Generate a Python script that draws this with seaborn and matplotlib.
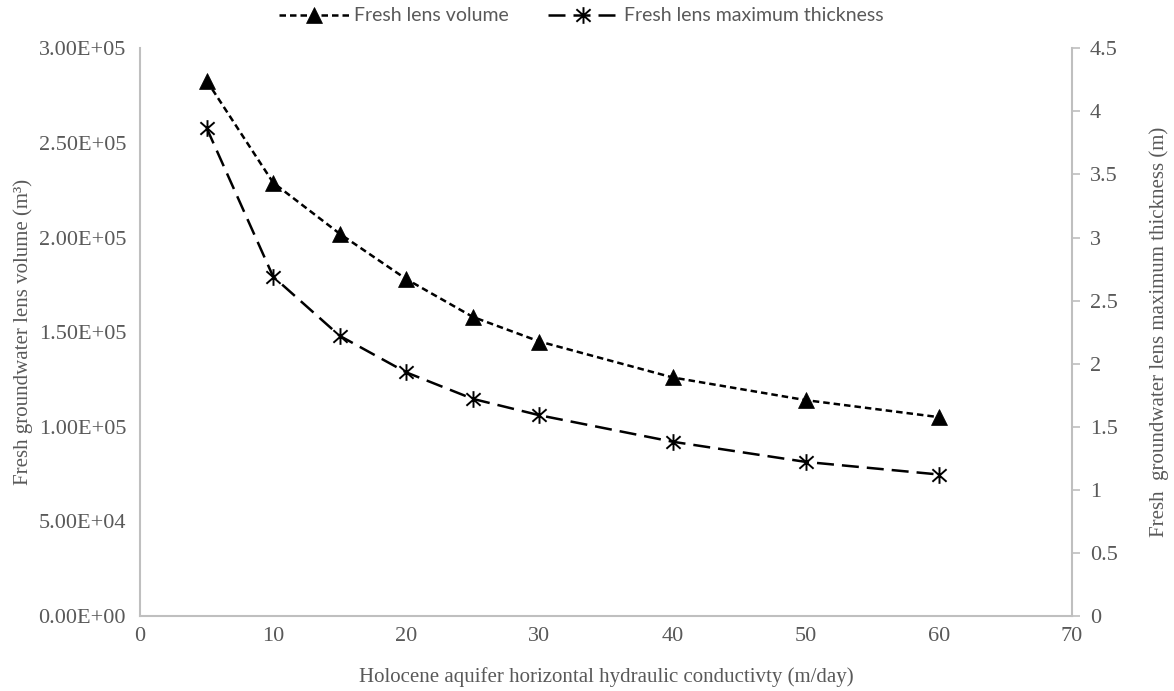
import matplotlib
matplotlib.use("Agg")
import matplotlib.pyplot as plt
from matplotlib.path import Path
import pandas as pd
import seaborn as sns

# Holocene aquifer horizontal hydraulic conductivity (m/day)
conductivity = [5, 10, 15, 20, 25, 30, 40, 50, 60]
# Fresh groundwater lens volume (m^3)
lens_volume = [2.83e5, 2.29e5, 2.02e5, 1.78e5, 1.58e5, 1.45e5, 1.26e5, 1.14e5, 1.05e5]
# Fresh groundwater lens maximum thickness (m)
lens_thickness = [3.87, 2.69, 2.22, 1.93, 1.72, 1.59, 1.38, 1.22, 1.12]

volume_ticks = [0, 5e4, 1e5, 1.5e5, 2e5, 2.5e5, 3e5]
thickness_ticks = [0, 0.5, 1, 1.5, 2, 2.5, 3, 3.5, 4, 4.5]
x_ticks = [0, 10, 20, 30, 40, 50, 60, 70]

df = pd.DataFrame({"k": conductivity, "volume": lens_volume, "thickness": lens_thickness})

sns.set_theme(style="white")
plt.rcParams["font.family"] = ["Liberation Serif", "DejaVu Serif"]

TEXT = "#595959"
SPINE = "#BFBFBF"

fig = plt.figure(figsize=(11.74, 6.91), dpi=100)
ax = fig.add_axes([140 / 1174, 1 - 615.7 / 691, 932 / 1174, 567.3 / 691])
ax2 = ax.twinx()

# six-armed asterisk: vertical bar plus a diagonal cross
star = Path(
    [(0, -1), (0, 1), (-0.85, -0.75), (0.85, 0.75), (-0.85, 0.75), (0.85, -0.75)],
    [Path.MOVETO, Path.LINETO, Path.MOVETO, Path.LINETO, Path.MOVETO, Path.LINETO],
)

sns.lineplot(data=df, x="k", y="volume", ax=ax, color="black", lw=1.8,
             marker="^", markersize=11, markerfacecolor="black",
             markeredgecolor="black", markeredgewidth=0.5,
             label="Fresh lens volume")
ax.lines[-1].set_dashes((2.6, 1.6))

sns.lineplot(data=df, x="k", y="thickness", ax=ax2, color="black", lw=1.8,
             marker=star, markersize=12, markerfacecolor="none",
             markeredgecolor="black", markeredgewidth=1.4,
             label="Fresh lens maximum thickness")
ax2.lines[-1].set_dashes((6.8, 3.2))

ax.set_xlim(0, 70)
ax.set_ylim(0, 3e5)
ax2.set_ylim(0, 4.5)
ax.set_xticks(x_ticks)
ax.set_xticklabels([str(v) for v in x_ticks])
ax.set_yticks(volume_ticks)
ax.set_yticklabels(["{:.2E}".format(v) for v in volume_ticks])
ax2.set_yticks(thickness_ticks)
ax2.set_yticklabels(["{:g}".format(v) for v in thickness_ticks])

for a in (ax, ax2):
    a.grid(False)
    for s in a.spines.values():
        s.set_visible(False)
    a.tick_params(colors=TEXT, labelsize=16, labelcolor=TEXT)
    if a.get_legend() is not None:
        a.get_legend().remove()

ax.spines["left"].set_visible(True)
ax.spines["bottom"].set_visible(True)
ax2.spines["right"].set_visible(True)
for s in (ax.spines["left"], ax.spines["bottom"], ax2.spines["right"]):
    s.set_color(SPINE)
    s.set_linewidth(1.5)

ax.tick_params(axis="x", length=0, pad=8)
ax.tick_params(axis="y", length=0, pad=10)
ax2.tick_params(axis="y", length=6, width=1.2, color=SPINE, direction="out", pad=7)

ax.set_xlabel("Holocene aquifer horizontal hydraulic conductivty (m/day)",
              color=TEXT, fontsize=15)
ax.set_ylabel("Fresh groundwater lens volume (m³)", color=TEXT, fontsize=15)
ax2.set_ylabel("Fresh  groundwater lens maximum thickness (m)", color=TEXT,
               fontsize=15, rotation=90)
ax.xaxis.set_label_coords(0.5, -0.09)
ax.yaxis.set_label_coords(-0.115, 0.5)
ax2.yaxis.set_label_coords(1.083, 0.5)

h1, l1 = ax.get_legend_handles_labels()
h2, l2 = ax2.get_legend_handles_labels()
fig.legend(h1 + h2, l1 + l2, loc="center", bbox_to_anchor=(0.495, 0.977),
           ncol=2, frameon=False, handlelength=3.6, columnspacing=2.0,
           handletextpad=0.3, prop={"family": ["Lato", "DejaVu Sans"], "size": 14},
           labelcolor=TEXT)

fig.savefig("out.png", dpi=100)
